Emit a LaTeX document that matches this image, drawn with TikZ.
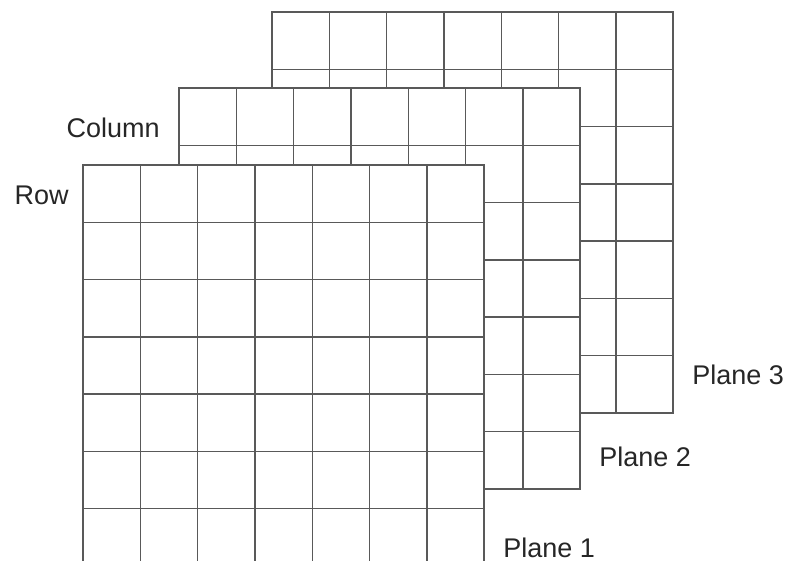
\documentclass[tikz,border=0pt]{standalone}
\usepackage{fontspec}
\setmainfont{Liberation Sans}
\usetikzlibrary{positioning}

\tikzset{
  planeline/.style={draw=black!65, line width=0.7pt},
  planelabel/.style={inner sep=0pt, text=black!85}
}

\begin{document}
\begin{tikzpicture}[x=0.5pt, y=-0.5pt, line cap=rect, font=\fontsize{13.5}{16}\selectfont]
    \useasboundingbox (0,0) rectangle (788,561);
    \clip (0,0) rectangle (788,561);
    \def\cell{57.3}

    % Three planes, back to front
    \foreach \px/\py in {272/12, 179/88, 83/165}{
        \filldraw[planeline, fill=white] (\px,\py) rectangle ++({7*\cell},{7*\cell});
        \foreach \k in {1,...,6}{
            \draw[planeline] ({\px+\k*\cell},\py) -- ++(0,{7*\cell});
            \draw[planeline] (\px,{\py+\k*\cell}) -- ++({7*\cell},0);
        }
    }

    % Labels
    \node[planelabel, anchor=east] (column) at (160,128) {Column};
    \node[planelabel, anchor=east] (row) at (69,195) {Row};
    \node[planelabel, anchor=west] (plane3) at (692,375) {Plane 3};
    \node[planelabel, anchor=west] (plane2) at (599,457) {Plane 2};
    \node[planelabel, anchor=west] (plane1) at (503,548) {Plane 1};
\end{tikzpicture}
\end{document}
